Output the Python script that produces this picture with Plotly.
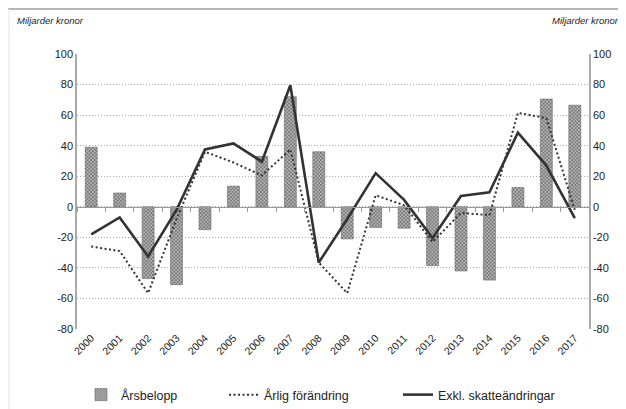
import plotly.graph_objects as go

years = [str(y) for y in range(2000, 2018)]
arsbelopp = [39, 9, -47, -51, -15, 13.5, 33, 72, 36, -21, -13.5, -14, -38.5, -42, -48, 12.6, 70.5, 66.5]
arlig_forandring = [-26, -29, -56.5, -8, 36, 29, 20.5, 37.5, -36.5, -56.5, 7.5, 1, -23, -4, -5.5, 61.5, 58, -2]
exkl_skatt = [-18, -7, -32.5, -2, 37.5, 41.5, 29.5, 79.5, -36.5, -8, 22, 4.5, -20.5, 7, 9.5, 48.5, 27, -7.5]
yticks = list(range(-80, 101, 20))
ytick_labels = [str(v) for v in yticks]

FONT = "Liberation Sans, Arial, sans-serif"
OFF = 8  # page body margin
W, H = 618, 401
L, R, T, B = 69, 37, 46, 80
pw, ph = W - L - R, H - T - B

def px(x):
    return (x - OFF - L) / pw

def py(y):
    return (H - B - (y - OFF)) / ph

fig = go.Figure()
fig.add_trace(go.Bar(
    x=years, y=arsbelopp, name="Årsbelopp", width=0.42,
    marker=dict(color="#8f8f8f", line=dict(color="#666666", width=0.6),
                pattern=dict(shape="x", fgcolor="#2a2a2a", bgcolor="#b8b8b8", size=2.5, solidity=0.55)),
    legend="legend",
))
fig.add_trace(go.Scatter(
    x=years, y=arlig_forandring, name="Årlig förändring", mode="lines",
    line=dict(color="#333333", width=2, dash="2px,2.5px"), legend="legend2",
))
fig.add_trace(go.Scatter(
    x=years, y=exkl_skatt, name="Exkl. skatteändringar", mode="lines",
    line=dict(color="#333333", width=2.6), legend="legend3",
))

legend_common = dict(orientation="h", yanchor="middle", y=py(395), xanchor="left",
                     font=dict(family=FONT, size=12.5, color="#222222"),
                     bgcolor="rgba(0,0,0,0)", itemwidth=30, tracegroupgap=0)

fig.update_layout(
    width=W, height=H,
    margin=dict(l=L, r=R, t=T, b=B, autoexpand=False),
    paper_bgcolor="white", plot_bgcolor="white",
    showlegend=True,
    legend=dict(legend_common, x=px(81)),
    legend2=dict(legend_common, x=px(224)),
    legend3=dict(legend_common, x=px(398)),
    xaxis=dict(type="category", categoryarray=years, range=[-0.5, 17.5], automargin=False,
               tickangle=-45, ticks="", showgrid=False, showline=False, zeroline=False,
               tickfont=dict(family=FONT, size=10.5, color="#222222")),
    xaxis2=dict(matches="x", overlaying="x", anchor="free", position=(0 + 80) / 180,
                type="category", categoryarray=years, showticklabels=False, automargin=False,
                ticks="outside", tickson="boundaries", ticklen=4, tickcolor="#999999",
                showline=True, linecolor="#999999", linewidth=1.2, showgrid=False),
    yaxis=dict(range=[-80, 100], tickvals=yticks, ticktext=ytick_labels, showgrid=True,
               gridcolor="#a8a8a8", automargin=False,
               griddash="1px,2px", gridwidth=1, zeroline=False, showline=True,
               linecolor="#aaaaaa", linewidth=1.5, ticks="",
               tickfont=dict(family=FONT, size=11, color="#222222")),
    yaxis2=dict(range=[-80, 100], tickvals=yticks, ticktext=ytick_labels, overlaying="y", side="right",
                showgrid=False, zeroline=False, showline=True, linecolor="#aaaaaa", automargin=False,
                linewidth=1.5, ticks="", anchor="x",
                tickfont=dict(family=FONT, size=11, color="#222222")),
)

# invisible trace to activate right axis and the zero-line axis
fig.add_trace(go.Scatter(x=years, y=exkl_skatt, xaxis="x2", yaxis="y2", mode="lines",
                         line=dict(width=0), hoverinfo="skip", showlegend=False))

fig.add_annotation(text="<i>Miljarder kronor</i>", xref="paper", yref="paper",
                   x=px(15), y=py(20), xanchor="left", yanchor="middle", showarrow=False,
                   font=dict(family=FONT, size=9.5, color="#222222"))
fig.add_annotation(text="<i>Miljarder kronor</i>", xref="paper", yref="paper",
                   x=px(621), y=py(20), xanchor="right", yanchor="middle", showarrow=False,
                   font=dict(family=FONT, size=9.5, color="#222222"))

fig.add_shape(type="line", xref="paper", yref="paper", x0=px(8), x1=px(626),
              y0=py(9), y1=py(9), line=dict(color="#b5b5b5", width=2))
fig.add_shape(type="line", xref="paper", yref="paper", x0=px(9), x1=px(9),
              y0=py(9), y1=py(409), line=dict(color="#ececec", width=1.5))

fig.write_html("out.html")
